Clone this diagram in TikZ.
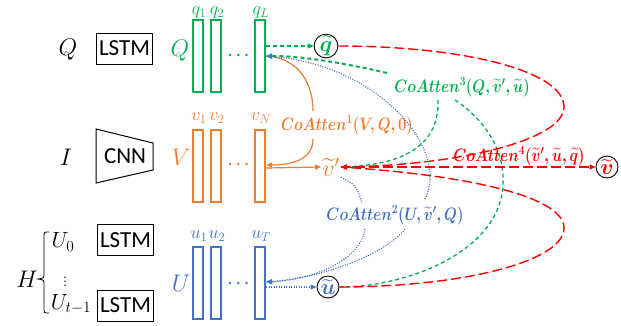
\RequirePackage{fix-cm}
\documentclass[tikz,border=0pt]{standalone}
\usepackage{fontspec}
\usepackage{amsmath}
\usepackage{graphicx}
\newfontfamily\calib{Carlito}
\usetikzlibrary{arrows.meta,calc}
\definecolor{cgreen}{HTML}{00B050}
\definecolor{corange}{HTML}{ED7D31}
\definecolor{cblue}{HTML}{4472C4}
\definecolor{cred}{HTML}{FF0000}
\newcommand{\narrow}[1]{\scalebox{0.82}[1]{#1}}
\begin{document}
\begin{tikzpicture}[x=1pt,y=-1pt,
  bar/.style={draw, line width=2.2pt, minimum width=10pt, minimum height=72pt, inner sep=0pt},
  box/.style={draw, line width=1pt, minimum width=56pt, minimum height=31pt, inner sep=0pt, font=\calib\fontsize{23}{23}\selectfont},
  big/.style={inner sep=1pt, font=\fontsize{24}{24}\selectfont},
  mid/.style={inner sep=1pt, font=\fontsize{22}{22}\selectfont},
  sub/.style={inner sep=0pt, font=\fontsize{18}{18}\selectfont},
  dotsty/.style={inner sep=0pt, font=\fontsize{16}{16}\selectfont\boldmath},
  lab/.style={inner sep=1pt, font=\fontsize{18}{18}\selectfont\boldmath},
  circ/.style={circle, draw=black, line width=0.9pt, inner sep=0pt, minimum size=22pt, font=\fontsize{22}{22}\selectfont\boldmath},
  tip/.style={-{Triangle[length=6pt,width=5pt]}},
  gdash/.style={draw=cgreen, line width=1.3pt, dash pattern=on 4pt off 3pt},
  rdash/.style={draw=cred, line width=1.4pt, dash pattern=on 10pt off 4pt},
  bdot/.style={draw=cblue, line width=1.2pt, dash pattern=on 1pt off 1.5pt},
  osolid/.style={draw=corange, line width=1.2pt}
]
\useasboundingbox (0,0) rectangle (621,325);

% left inputs
\node[big] (Ql) at (68,50) {$Q$};
\node[big] (Il) at (66,157) {$I$};
\node[big] (Hl) at (27,279) {$H$};
\node[mid] (U0) at (63,242) {$U_0$};
\node[inner sep=0pt, font=\fontsize{18}{18}\selectfont] (Ud) at (65,279) {$\vdots$};
\node[mid] (Ut) at (71,304) {$U_{t-1}$};
\draw[line width=0.8pt] (49,232) .. controls (44,232) .. (44,237) -- (44,274) .. controls (44,278) .. (38,279) .. controls (44,280) .. (44,284) -- (44,308) .. controls (44,313) .. (49,313);

\node[box] (lstm1) at (124.5,48.5) {LSTM};
\draw[line width=1pt] (96,129) -- (153,143) -- (153,170) -- (96,183) -- cycle;
\node[inner sep=0pt, font=\calib\fontsize{23}{23}\selectfont] (cnn) at (125,156) {CNN};
\node[box] (lstm2) at (125.5,240) {LSTM};
\node[box] (lstm3) at (125.5,305.5) {LSTM};

% green bars
\node[bar,draw=cgreen] (q1) at (198,56) {};
\node[bar,draw=cgreen] (q2) at (216,56) {};
\node[bar,draw=cgreen] (qL) at (260,56) {};
\node[sub,text=cgreen] (q1l) at (199,12.5) {$q_1$};
\node[sub,text=cgreen] (q2l) at (217,12.5) {$q_2$};
\node[sub,text=cgreen] (qLl) at (261,12.5) {$q_L$};
\node[dotsty,text=cgreen] (qd) at (240,56) {$\cdots$};
\node[big,text=cgreen] (Qs) at (180,51) {$Q$};

% orange bars
\node[bar,draw=corange] (v1) at (198,166) {};
\node[bar,draw=corange] (v2) at (216,166) {};
\node[bar,draw=corange] (vN) at (260,166) {};
\node[sub,text=corange] (v1l) at (199,118) {$v_1$};
\node[sub,text=corange] (v2l) at (217,118) {$v_2$};
\node[sub,text=corange] (vNl) at (261,118) {$v_N$};
\node[dotsty,text=corange] (vd) at (240,165) {$\cdots$};
\node[big,text=corange] (Vs) at (181,157) {$V$};

% blue bars
\node[bar,draw=cblue] (u1) at (198,283) {};
\node[bar,draw=cblue] (u2) at (216,283) {};
\node[bar,draw=cblue] (uT) at (260,283) {};
\node[sub,text=cblue] (u1l) at (199,236) {$u_1$};
\node[sub,text=cblue] (u2l) at (217,236) {$u_2$};
\node[sub,text=cblue] (uTl) at (261,236) {$u_T$};
\node[dotsty,text=cblue] (ud) at (240,284) {$\cdots$};
\node[big,text=cblue] (Us) at (181,283) {$U$};

% circles and v'
\node[circ,text=cgreen] (qt) at (326,46) {$\widetilde{q}$};
\node[circ,text=cblue] (ut) at (328,287) {$\widetilde{u}$};
\node[circ,text=cred] (vt) at (607,167) {$\widetilde{v}$};
\node[big,text=corange] (vp) at (331,167) {$\widetilde{v}'$};

% labels
\node[lab,text=corange] (c1) at (347,125) {\narrow{$CoAtten^{1}(V,Q,0)$}};
\node[lab,text=cgreen] (c3) at (462,87) {\narrow{$CoAtten^{3}(Q,\widetilde{v}',\widetilde{u})$}};
\node[lab,text=cred] (c4) at (519,156) {\narrow{$CoAtten^{4}(\widetilde{v}',\widetilde{u},\widetilde{q})$}};
\node[lab,text=cblue] (c2) at (395,215) {\narrow{$CoAtten^{2}(U,\widetilde{v}',Q)$}};

\coordinate (c1a) at (313,111);
\coordinate (c1b) at (313,139);
\coordinate (c3a) at (387,73);
\coordinate (c3b) at (438,100);
\coordinate (c3c) at (455,100);
\coordinate (c2a) at (425,199);
\coordinate (c2b) at (362,203);
\coordinate (c2c) at (365,229);
\coordinate (c2d) at (405,229);

% orange
\draw[osolid] (qL.east) .. controls (300,58) and (313,85) .. (c1a);
\draw[osolid,tip] (c1b) .. controls (313,158) and (295,165) .. ([yshift=1pt]vN.east);
\draw[osolid,tip] ([yshift=-2pt]vN.east) -- (vp.west);

% green
\draw[gdash,tip] ([yshift=10pt]qL.east) -- (qt.west);
\draw[gdash,line width=2pt,tip] (c3a) .. controls (340,62) and (300,56) .. (qL.east);
\draw[gdash] (c3b) .. controls (440,150) and (395,166) .. (vp.east);
\draw[gdash] (c3c) .. controls (485,120) and (505,150) .. (503,185) .. controls (500,250) and (410,287) .. (ut.east);

% blue
\draw[bdot,tip] (c2a) .. controls (450,150) and (380,65) .. (qL.east);
\draw[bdot] (vp.south east) .. controls (356,185) .. (c2b);
\draw[bdot,tip] (c2c) .. controls (360,262) and (310,280) .. ([yshift=1pt]uT.east);
\draw[bdot,tip] (c2d) .. controls (385,255) and (320,278) .. ([yshift=1pt]uT.east);
\draw[bdot,tip] ([yshift=-4pt]uT.east) -- (ut.west);

% red
\draw[rdash,tip] (qt.east) .. controls (460,46) and (564,70) .. (564,107) .. controls (564,140) and (460,165) .. (vp.east);
\draw[rdash,tip] (ut.east) .. controls (460,287) and (564,262) .. (564,228) .. controls (564,195) and (460,175) .. (vp.east);
\draw[rdash,tip] (vp.east) -- (vt.west);
\end{tikzpicture}
\end{document}
